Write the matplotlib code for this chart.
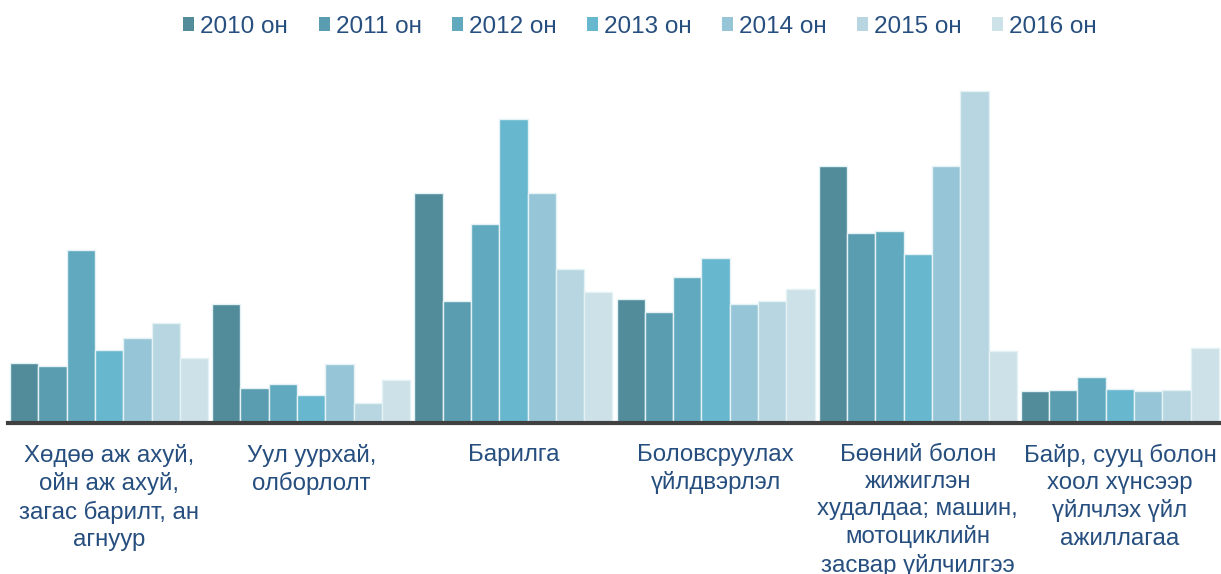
import matplotlib
matplotlib.use("Agg")
import matplotlib.pyplot as plt
import numpy as np
from matplotlib.patches import Patch

categories = [
    "Хөдөө аж ахуй,\nойн аж ахуй,\nзагас барилт, ан\nагнуур",
    "Уул уурхай,\nолборлолт",
    "Барилга",
    "Боловсруулах\nүйлдвэрлэл",
    "Бөөний болон\nжижиглэн\nхудалдаа; машин,\nмотоциклийн\nзасвар үйлчилгээ",
    "Байр, сууц болон\nхоол хүнсээр\nүйлчлэх үйл\nажиллагаа",
]
years = ["2010 он", "2011 он", "2012 он", "2013 он", "2014 он", "2015 он", "2016 он"]

v2010 = [60, 119, 230, 124.5, 257, 32.5]
v2011 = [57, 35, 122, 111.5, 190, 33.5]
v2012 = [173, 39.5, 199, 146, 192, 46.5]
v2013 = [73, 28, 304, 165.5, 169.5, 34]
v2014 = [85, 59.5, 230, 119, 257, 32.5]
v2015 = [100, 20.5, 154, 122, 332, 33.5]
v2016 = [65, 43, 131, 134, 72.5, 75]
series = [v2010, v2011, v2012, v2013, v2014, v2015, v2016]

colors = ["#528c9b", "#5a9db0", "#60a9bf", "#67b7cf", "#96c5d7", "#b7d6e1", "#cde1e8"]
text_color = "#264e7e"

plt.rcParams['font.family'] = ['Liberation Sans', 'DejaVu Sans']

W, H = 1221, 574
fig = plt.figure(figsize=(W / 100, H / 100), dpi=100)
ax = fig.add_axes([8 / W, (H - 423) / H, (W - 8) / W, (423 - 60) / H])

n = len(series)
x = np.arange(len(categories))
group_w = 0.98
bw = group_w / n
for i, (vals, c) in enumerate(zip(series, colors)):
    ax.bar(x - group_w / 2 + bw * (i + 0.5), vals, width=bw, color=c,
           edgecolor="#e4f1f5", linewidth=1.0, label=years[i])

ax.set_xlim(-0.5, len(categories) - 0.5)
ax.set_ylim(0, 363)
for s in ["top", "right", "left"]:
    ax.spines[s].set_visible(False)
ax.spines["bottom"].set_color("#404040")
ax.spines["bottom"].set_linewidth(3)
ax.set_yticks([])
ax.set_xticks(x)
ax.set_xticklabels(categories, fontsize=17.3, color=text_color, linespacing=1.3,
                   va="top")
ax.tick_params(axis="x", length=0, pad=15)

handles = [Patch(facecolor=c, edgecolor="none") for c in colors]
leg = fig.legend(handles, years, loc="center", bbox_to_anchor=(640 / W, 1 - 27 / H),
                 ncol=7, frameon=False, fontsize=17.5, handlelength=0.45,
                 handleheight=0.5, handletextpad=0.25, columnspacing=1.25)
for t in leg.get_texts():
    t.set_color(text_color)

fig.savefig("out.png", dpi=100)
